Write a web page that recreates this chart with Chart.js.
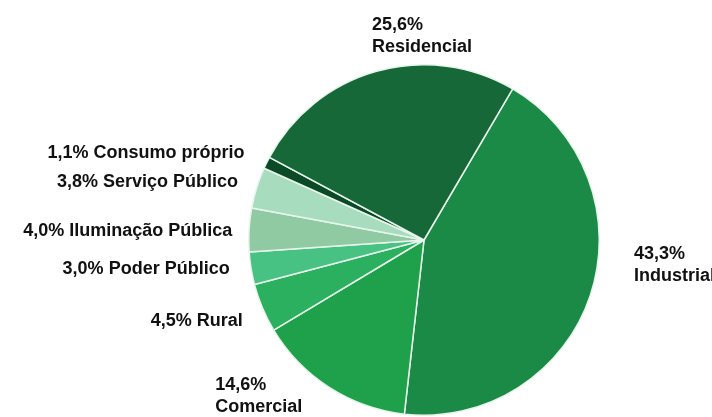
<!DOCTYPE html>
<html><head><meta charset="utf-8">
<script src="https://cdn.jsdelivr.net/npm/chart.js@4/dist/chart.umd.min.js"></script>
<style>html,body{margin:0;padding:0;background:#fff}#wrap{width:712px;height:417px;position:relative}</style>
</head><body><div id="wrap"><canvas id="c"></canvas></div>
<script>
const categories = ["Industrial","Comercial","Rural","Poder Público","Iluminação Pública","Serviço Público","Consumo próprio","Residencial"];
const values = [43.3, 14.6, 4.5, 3.0, 4.0, 3.8, 1.1, 25.6];
const percentLabels = ["43,3%","14,6%","4,5%","3,0%","4,0%","3,8%","1,1%","25,6%"];
const colors = ["#1b8a47","#1fa04b","#2bb060","#48c283","#8fcaa3","#a8dcbf","#0b4a26","#176838"];

// label layout: r = radial distance factor, dx/dy offsets, mode
const labelLayout = [
  {r:1.0, dx:21, dy:-38, two:true, align:"left"},
  {r:1.0, dx:-101, dy:-12, two:true, align:"left"},
  {r:0.0, dx:3, dy:3, two:false, align:"right"},
  {r:0.0, dx:3, dy:-3, two:false, align:"right"},
  {r:0.0, dx:8, dy:2, two:false, align:"right"},
  {r:0.0, dx:5, dy:2, two:false, align:"right"},
  {r:0.0, dx:0, dy:1, two:false, align:"right"},
  {r:1.0, dx:2, dy:-12, two:true, align:"left"}
];

const labelPlugin = {
  id:"outLabels",
  afterDraw(chart){
    const ctx = chart.ctx;
    const meta = chart.getDatasetMeta(0);
    ctx.save();
    ctx.fillStyle = "#111";
    ctx.font = "bold 18px 'Liberation Sans', Arial, sans-serif";
    meta.data.forEach((arc,i)=>{
      const p = arc.getProps(["x","y","startAngle","endAngle","outerRadius"], true);
      const mid = (p.startAngle + p.endAngle)/2;
      const L = labelLayout[i];
      const R = L.r ? p.outerRadius * L.r + 24 : 200;
      const x = p.x + Math.cos(mid)*R + L.dx;
      const y = p.y + Math.sin(mid)*R + L.dy;
      ctx.textAlign = L.align;
      ctx.textBaseline = "middle";
      if (L.two){
        ctx.fillText(percentLabels[i], x, y-11);
        ctx.fillText(categories[i], x, y+11);
      } else {
        ctx.fillText(percentLabels[i] + " " + categories[i], x, y);
      }
    });
    ctx.restore();
  }
};

new Chart(document.getElementById("c"), {
  type:"pie",
  data:{labels:categories, datasets:[{data:values, backgroundColor:colors, borderColor:"#e8f5ec", borderWidth:1.5}]},
  options:{
    responsive:true, maintainAspectRatio:false, animation:false,
    rotation:30.4,
    layout:{padding:{left:248, right:112, top:64, bottom:1}},
    plugins:{legend:{display:false}, tooltip:{enabled:false}}
  },
  plugins:[labelPlugin]
});
</script></body></html>
